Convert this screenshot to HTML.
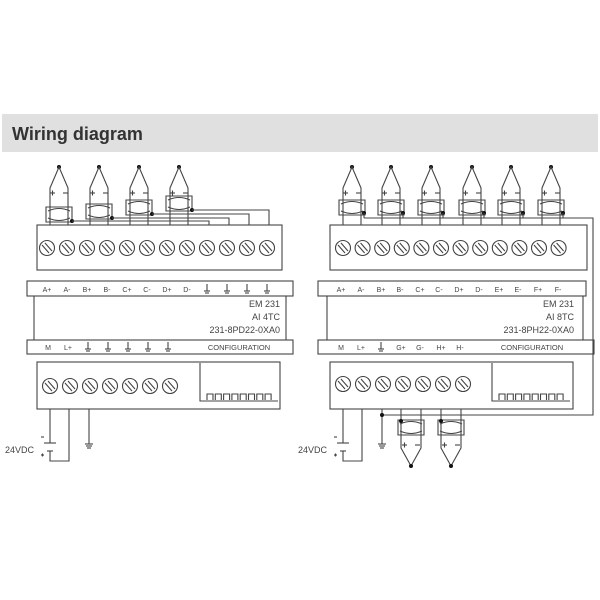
<!DOCTYPE html>
<html><head><meta charset="utf-8"><style>
html,body{margin:0;padding:0;background:#fff;}
svg{display:block;}
text{font-family:"Liberation Sans",sans-serif;fill:#444;}
</style></head><body>
<svg id="s" width="600" height="600" viewBox="0 0 600 600" xmlns="http://www.w3.org/2000/svg">
<rect x="2" y="114" width="596" height="38" fill="#e0e0e0"/>
<text x="12" y="140" font-size="18" font-weight="bold" style="fill:#333">Wiring diagram</text>
<g id="g" stroke="#444" stroke-width="1.1" fill="none"></g>
<g font-size="7" text-anchor="middle">
<text x="47" y="292">A+</text><text x="67" y="292">A-</text><text x="87" y="292">B+</text><text x="107" y="292">B-</text>
<text x="127" y="292">C+</text><text x="147" y="292">C-</text><text x="167" y="292">D+</text><text x="187" y="292">D-</text>
<text x="48" y="350">M</text><text x="68" y="350">L+</text>
<text x="239" y="350" font-size="7.5">CONFIGURATION</text>
<text x="341" y="292">A+</text><text x="361" y="292">A-</text><text x="381" y="292">B+</text><text x="400" y="292">B-</text>
<text x="420" y="292">C+</text><text x="439" y="292">C-</text><text x="459" y="292">D+</text><text x="479" y="292">D-</text>
<text x="499" y="292">E+</text><text x="518" y="292">E-</text><text x="538" y="292">F+</text><text x="558" y="292">F-</text>
<text x="341" y="350">M</text><text x="361" y="350">L+</text><text x="401" y="350">G+</text><text x="420" y="350">G-</text>
<text x="441" y="350">H+</text><text x="460" y="350">H-</text>
<text x="532" y="350" font-size="7.5">CONFIGURATION</text>
</g>
<g font-size="9" text-anchor="end">
<text x="280" y="307">EM  231</text><text x="280" y="320">AI 4TC</text><text x="280" y="333">231-8PD22-0XA0</text>
<text x="574" y="307">EM  231</text><text x="574" y="320">AI 8TC</text><text x="574" y="333">231-8PH22-0XA0</text>
</g>
<g font-size="9"><text x="5" y="453">24VDC</text><text x="298" y="453">24VDC</text></g>
</svg>
<script>
var g=document.getElementById('g'),NS="http://www.w3.org/2000/svg";
function el(t,a){var e=document.createElementNS(NS,t);for(var k in a)e.setAttribute(k,a[k]);g.appendChild(e);return e;}
function L(x1,y1,x2,y2){el('line',{x1:x1,y1:y1,x2:x2,y2:y2});}
function P(d){el('path',{d:d});}
function R(x,y,w,h){el('rect',{x:x,y:y,width:w,height:h});}
function D(x,y){el('circle',{cx:x,cy:y,r:2,fill:'#111',stroke:'none'});}
function screw(x,y){el('circle',{cx:x,cy:y,r:7.5});L(x-5,y-3,x+2,y+5);L(x-2,y-5,x+5,y+3);}
function gnd(x,y){L(x,y-5,x,y+2);L(x-3,y+2,x+3,y+2);L(x-2,y+4,x+2,y+4);}
function gndw(x,y){L(x-4,y,x+4,y);L(x-3,y+2,x+3,y+2);L(x-2,y+4,x+2,y+4);}
function sleeve(cx,y){P('M'+(cx-13)+' '+y+' h26 v15 h-26 z');P('M'+(cx-11)+' '+(y+4)+' q11 -5 22 0 M'+(cx-11)+' '+(y+11)+' q11 5 22 0');}
function tcTop(cx,sy){D(cx,167);P('M'+(cx-9)+' 225 V188 L'+cx+' 167 L'+(cx+9)+' 188 V225');sleeve(cx,sy);}
function plusMinus(cx,y){L(cx-9,y,cx-4,y);L(cx-6.5,y-2.5,cx-6.5,y+2.5);L(cx+4,y,cx+9,y);}
function batt(x){P('M'+x+' 409 V443 M'+x+' 451 V461 H'+(x+19)+' V409');L(x-6,443,x+6,443);L(x-3,451,x+3,451);L(x-9,437,x-6,437);L(x-9,455,x-6,455);L(x-7.5,453.5,x-7.5,456.5);}
// LEFT
var sys=[207,204,200,196],tx=[59,99,139,179],ex=[209,229,249,269];
for(var i=0;i<4;i++){tcTop(tx[i],sys[i]);plusMinus(tx[i],193);var dy=sys[i]+14;D(tx[i]+13,dy);P('M'+(tx[i]+13)+' '+dy+' H'+ex[i]+' V225');}
R(37,225,245,45);for(var i=0;i<12;i++)screw(47+i*20,248);
R(27,281,266,15);P('M34 296 V340 M286 296 V340');R(27,340,266,14);
for(var i=0;i<4;i++)gnd(207+i*20,289);for(var i=0;i<5;i++)gnd(88+i*20,347);
R(37,362,243,47);for(var i=0;i<7;i++)screw(50+i*20,386);
P('M200 363 V401 H278');for(var i=0;i<8;i++)P('M'+(207+i*8.3)+' 400 v-6 h6 v6');
batt(50);
L(89,409,89,444);gndw(89,444);
// RIGHT
var rx=[352,391,431,472,511,551];
for(var i=0;i<6;i++){tcTop(rx[i],200);plusMinus(rx[i],193);D(rx[i]+12,213);P('M'+(rx[i]+12)+' 213 V218');}
P('M364 218 H593 V415 H382');
R(330,225,257,45);for(var i=0;i<12;i++)screw(343+i*19.6,248);
R(318,281,268,15);P('M327 296 V340 M583 296 V340');R(318,340,276,14);
gnd(381,347);
R(330,362,243,47);for(var i=0;i<7;i++)screw(343+i*20,384);
P('M492 363 V401 H570');for(var i=0;i<8;i++)P('M'+(499+i*8.3)+' 400 v-6 h6 v6');
batt(343);
L(382,409,382,444);gndw(382,444);D(382,415);
function tcBot(a,b){var c=(a+b)/2;P('M'+a+' 409 V448 L'+c+' 466 L'+b+' 448 V409');D(c,466);sleeve(c,420);D(a,421);plusMinus(c,445);}
tcBot(401,421);tcBot(441,461);
</script>
</body></html>
